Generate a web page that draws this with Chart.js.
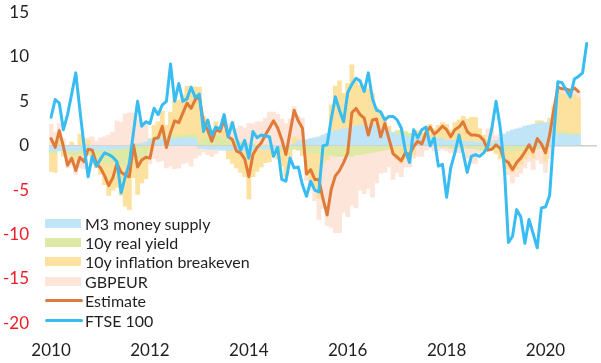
<!DOCTYPE html>
<html>
<head>
<meta charset="utf-8">
<script src="https://cdn.jsdelivr.net/npm/chart.js@4/dist/chart.umd.min.js"></script>
<style>
  html, body { margin: 0; padding: 0; background: #fff; }
  #wrap { position: relative; width: 601px; height: 363px; }
  #legend { position: absolute; left: 0; top: 0; font: 16px Lato, sans-serif; color: #231f20; }
  .li { position: absolute; left: 45px; height: 20px; display: flex; align-items: center; white-space: nowrap; }
  .sw { width: 36px; height: 9px; margin-right: 4px; }
  .ln { width: 38px; height: 3px; margin-right: 2px; border-radius: 2px; }
</style>
</head>
<body>
<div id="wrap">
  <canvas id="c" width="601" height="363"></canvas>
  <div id="legend"></div>
</div>
<script>
// monthly, Jan 2010 .. Jan 2021
const years = [2010, 2011, 2012, 2013, 2014, 2015, 2016, 2017, 2018, 2019, 2020, 2021];
const yearTicks = ['2010', '2012', '2014', '2016', '2018', '2020'];
const months = [];
years.forEach(y => {
  for (let m = 1; m <= 12; m++) {
    if (y === 2021 && m > 1) break;
    months.push(y + '-' + String(m).padStart(2, '0'));
  }
});

// contributions (pp), Jan 2010 .. Sep 2020
const m3Supply = [
  -0.6, -0.6, -0.6, -0.6, -0.6, -0.6, -0.6, -0.5, -0.5, -0.5, -0.5, -0.5,
  -0.5, -0.5, -0.5, -0.4, -0.4, -0.3, -0.3, -0.2, 0.1, 0.2, 0.3, 0.4,
  0.6, 0.7, 0.7, 0.8, 0.8, 0.8, 0.8, 0.8, 0.9, 0.9, 0.9, 0.8,
  -0.3, -0.3, -0.4, -0.4, -0.4, -0.5, -0.5, -0.5, -0.5, -0.5, -0.5, -0.5,
  -0.5, -0.5, -0.4, -0.4, -0.4, -0.3, -0.3, -0.2, -0.1, 0.0, 0.1, 0.2,
  0.5, 0.6, 0.7, 0.8, 0.9, 1.0, 1.2, 1.4, 1.6, 1.7, 1.8, 1.9,
  2.0, 2.1, 2.2, 2.3, 2.3, 2.4, 2.4, 2.3, 2.1, 1.9, 1.7, 1.5,
  1.2, 1.2, 1.1, 1.0, 1.0, 1.0, 0.9, 0.9, 0.9, 0.9, 0.8, 0.8,
  0.6, 0.6, 0.6, 0.6, 0.5, 0.5, 0.5, 0.4, 0.4, 0.4, 0.4, 0.3,
  0.6, 0.9, 1.3, 1.6, 1.8, 1.9, 2.0, 2.2, 2.3, 2.4, 2.5, 2.6,
  2.6, 2.6, 2.3, 1.3, 1.3, 1.2, 1.2, 1.2, 1.2
];
const realYield = [
  -0.3, -0.2, 0.2, -0.3, -0.4, -0.5, -0.6, -0.5, -0.6, -0.6, -0.8, -1.0,
  -1.2, -1.4, -1.6, -1.6, -1.8, -1.8, -2.0, -2.0, -1.6, -1.5, -1.4, -1.2,
  0.2, 0.4, 0.5, 0.6, 0.5, 0.5, 0.4, 0.3, 0.3, 0.3, 0.4, 0.4,
  0.4, 0.8, 1.0, 1.2, 1.2, 1.0, 0.8, 0.8, 0.6, 0.5, 0.4, 0.3,
  0.2, 0.2, 0.1, 0.1, 0.1, 0.0, -0.2, -0.3, -0.4, -0.5, -0.5, -0.4,
  -0.5, -0.6, -0.7, -0.8, -0.8, -0.9, -1.0, -1.1, -1.1, -1.2, -1.2, -1.2,
  -1.2, -1.2, -1.0, -1.0, -0.9, -0.8, -0.8, -0.7, -0.6, -0.5, -0.4, -0.3,
  0.5, 0.6, 0.5, 0.4, 0.3, 0.2, 0.2, 0.1, 0.0, 0.0, -0.1, -0.2,
  -0.2, -0.3, -0.3, -0.2, -0.2, -0.3, -0.3, -0.4, -0.5, -0.5, -0.5, -0.4,
  -0.4, -0.5, -0.6, -0.6, -0.7, -0.6, -0.5, -0.5, -0.4, -0.4, -0.3, -0.3,
  -0.3, -0.2, 0.2, 0.3, 0.3, 0.3, 0.2, 0.2, 0.2
];
const breakeven = [
  -2.0, -2.2, 0.5, -0.3, -0.5, 0.4, -0.5, 1.3, 0.8, 0.6, -0.8, -1.0,
  -1.5, -2.5, -3.5, -3.0, -2.5, -3.5, -4.5, -5.0, -2.0, -4.0, -2.8, -2.5,
  -0.5, 1.2, 1.5, 2.5, 1.0, 2.5, 4.2, 4.0, 4.5, 5.5, 5.2, 5.4,
  6.2, 2.5, 1.8, 0.5, 1.5, 0.8, 1.0, -1.0, -1.5, -2.0, -2.5, -3.0,
  -5.5, -3.0, -2.5, -2.0, -1.5, -1.5, -0.5, -1.0, -1.8, -3.0, -1.0, 0.8,
  0.3, -0.5, -2.0, -3.0, -4.0, -5.0, -1.0, -0.5, 3.0, 5.0, 5.5, 4.0,
  5.0, 7.0, 5.0, 4.5, 4.5, 4.0, 3.5, 2.0, 1.5, 1.0, 0.5, -0.5,
  -1.5, -2.0, -1.5, -1.8, -1.0, 0.5, 0.3, 1.0, 1.5, 1.0, 1.5, 1.8,
  1.8, 1.2, 2.0, 2.3, 2.8, 2.5, 2.7, 2.8, 1.5, 0.8, 0.3, 0.2,
  -0.5, -1.0, -1.8, -2.0, -2.3, -2.0, -1.6, -1.0, -0.6, -1.0, 0.3, 0.2,
  -1.5, 0.5, 1.8, 4.5, 4.3, 4.3, 4.5, 4.3, 4.0
];
const gbpeur = [
  2.4, 1.5, 1.8, 0.8, -1.0, -1.0, -1.5, -1.5, -1.5, 0.3, 1.0, 0.5,
  0.9, 1.0, 1.2, 1.5, 2.8, 2.6, 3.6, 3.7, 3.6, 2.8, 2.3, 2.0,
  -1.5, -1.5, -1.8, -1.7, -2.5, -2.3, -2.6, -2.5, -2.0, -1.9, -2.3, -1.4,
  -0.8, -0.4, -0.6, -0.8, -0.5, 0.3, 1.6, 1.7, 2.1, 1.4, 1.8, 1.7,
  2.3, 2.3, 2.6, 2.6, 3.0, 3.8, 3.8, 3.5, 3.0, 2.5, 2.9, 3.4,
  2.5, 2.5, -1.2, -1.2, -1.4, -2.4, -5.1, -7.4, -8.1, -8.6, -8.6, -6.3,
  -6.8, -5.5, -6.0, -4.0, -4.5, -4.0, -5.0, -3.5, -2.5, -2.5, -2.0, -3.0,
  -1.5, -1.5, -0.9, -0.6, -0.4, -1.2, -1.2, -0.5, -0.3, -0.6, -0.5, -0.2,
  -0.4, -0.5, -0.5, -0.6, -0.4, -1.1, -1.7, -1.6, -0.3, -0.1, 1.2, 1.5,
  0.5, 0.4, -0.4, -0.7, -1.2, -0.9, -1.0, -1.0, -0.8, -1.3, -1.3, -1.7,
  -1.2, -1.3, 0.2, 0.5, 0.5, 0.6, 0.3, 0.8, 0.7
];
const estimate = [
  0.8, -0.2, 1.7, -0.1, -2.2, -1.4, -2.8, -1.3, -1.8, -0.4, -0.5, -2.0,
  -2.5, -3.4, -4.5, -3.6, -2.0, -3.0, -3.3, -3.5, 0.1, -2.4, -1.6, -1.3,
  -1.4, 0.8, 0.9, 2.2, -0.2, 1.5, 2.8, 2.6, 3.7, 4.8, 4.2, 5.2,
  5.5, 2.6, 1.8, 0.5, 1.8, 1.6, 2.9, 1.0, 0.7, -0.6, -0.8, -1.5,
  -3.5, -1.0, -0.2, 0.3, 1.2, 2.0, 2.8, 2.0, 0.7, -1.0, 1.5, 4.0,
  2.8, 2.0, -3.2, -2.7, -3.8, -3.8, -6.0, -7.8, -4.9, -3.4, -2.8, -1.9,
  -0.8, 3.7, 4.2, 3.5, 3.1, 1.2, 2.9, 3.0, 1.0, 2.5, 0.8, -0.9,
  -1.3, -1.7, -0.8, -1.0, -0.1, 0.5, 0.2, 1.5, 2.1, 1.3, 1.7, 2.2,
  1.8, 1.0, 1.8, 2.1, 2.7, 1.6, 1.2, 1.2, 1.1, 0.6, -0.5, -0.4,
  0.1, -0.3, -1.6, -1.9, -2.7, -1.9, -1.4, -0.7, 0.1, -0.7, 0.8, 0.2,
  -0.8, 1.2, 4.0, 6.6, 6.4, 6.4, 6.2, 6.5, 6.1
];
// FTSE 100, Jan 2010 .. Nov 2020
const ftse100 = [
  3.2, 5.2, 4.8, 1.8, 3.5, 5.8, 8.2, 4.0, 0.0, -3.5, -1.2, -2.3,
  -1.5, -0.8, -1.0, -1.3, -1.8, -5.3, -3.5, -2.0, 1.5, 5.0, 2.2, 2.7,
  2.5, 4.2, 3.5, 4.6, 5.0, 9.2, 5.0, 7.0, 5.0, 5.3, 6.6, 5.4,
  5.8, 1.6, 2.9, 1.2, 2.1, 1.9, 3.5, 1.0, 2.6, 0.8, -0.5, 0.6,
  -1.4, 1.6, 0.9, 1.2, 1.1, 1.0, -1.2, -0.2, -3.8, -4.0, -1.4, -2.5,
  -2.4, -4.4, -5.7, -4.0, -5.0, -5.2, 0.0, 0.1, 3.0, 5.5, 4.0, 2.7,
  6.0, 6.9, 7.6, 7.3, 6.1, 8.2, 5.3, 4.0, 3.8, 2.9, 3.3, 3.3,
  2.9, 2.0, -0.6, -1.9, 1.8, 0.9, 1.8, 2.1, 0.0, 0.9, -2.3, -2.1,
  -5.8, -2.5, -0.8, 1.2, -0.8, -3.0, -1.2, -1.0, -1.2, -0.8, -0.1, 2.0,
  5.0, 2.1, -2.4, -10.9, -10.2, -7.2, -8.0, -11.0, -8.3, -9.9, -11.5, -7.0,
  -6.9, -5.6, 1.0, 7.2, 7.1, 6.3, 5.5, 7.5, 7.8, 8.2, 11.5
];

const C = {
  m3: '#bfe5f7', ry: '#dfe9a6', be: '#fde29f', fx: '#fde5da',
  est: '#e07a38', ftse: '#38bcf1', text: '#231f20', neg: '#ee1c25', zero: '#cdcdcd'
};

function barSet(label, data, color) {
  return { type: 'bar', label, data, backgroundColor: color, borderWidth: 0,
           stack: 'parts', order: 3, barPercentage: 1, categoryPercentage: 1 };
}
function lineSet(label, data, color, order) {
  return { type: 'line', label, data, borderColor: color, backgroundColor: color,
           borderWidth: 3, pointRadius: 0, tension: 0, fill: false,
           stack: label, order, borderJoinStyle: 'round', borderCapStyle: 'round' };
}

const datasets = [
  barSet('M3 money supply', m3Supply, C.m3),
  barSet('10y real yield', realYield, C.ry),
  barSet('10y inflation breakeven', breakeven, C.be),
  barSet('GBPEUR', gbpeur, C.fx),
  lineSet('Estimate', estimate, C.est, 1),
  lineSet('FTSE 100', ftse100, C.ftse, 0),
];

const chart = new Chart(document.getElementById('c').getContext('2d'), {
  type: 'bar',
  data: { labels: months, datasets },
  options: {
    responsive: false,
    animation: false,
    events: [],
    layout: { padding: { top: 12.5, right: 4, bottom: 0, left: 0 } },
    plugins: { legend: { display: false }, tooltip: { enabled: false } },
    scales: {
      x: {
        stacked: true,
        grid: { display: false, drawTicks: false },
        border: { display: false },
        ticks: {
          autoSkip: false, maxRotation: 0, padding: 17,
          color: C.text, font: { family: 'Lato', size: 17 },
          callback: (v, i) => {
            const lab = months[i];
            return (lab.endsWith('-01') && yearTicks.includes(lab.slice(0, 4))) ? lab.slice(0, 4) : null;
          }
        },
        afterFit: s => { s.height = 39.7; s.paddingLeft = 0; s.paddingRight = 0; }
      },
      y: {
        stacked: true, min: -20, max: 15,
        border: { display: false },
        grid: { drawTicks: false, lineWidth: 1.5, color: c => c.tick && c.tick.value === 0 ? C.zero : 'rgba(0,0,0,0)' },
        ticks: {
          stepSize: 5, padding: 20,
          color: c => c.tick.value < 0 ? C.neg : C.text,
          font: { family: 'Lato', size: 17 }
        },
        afterFit: s => { s.width = 49; s.paddingTop = 0; s.paddingBottom = 0; }
      }
    }
  }
});

// legend inside the plot, lower left
const legendEl = document.getElementById('legend');
datasets.forEach((d, i) => {
  const row = document.createElement('div');
  row.className = 'li';
  row.style.top = (213 + i * 19.4) + 'px';
  const mark = document.createElement('span');
  mark.className = d.type === 'bar' ? 'sw' : 'ln';
  mark.style.background = d.backgroundColor;
  row.appendChild(mark);
  row.appendChild(document.createTextNode(d.label));
  legendEl.appendChild(row);
});
</script>
</body>
</html>
